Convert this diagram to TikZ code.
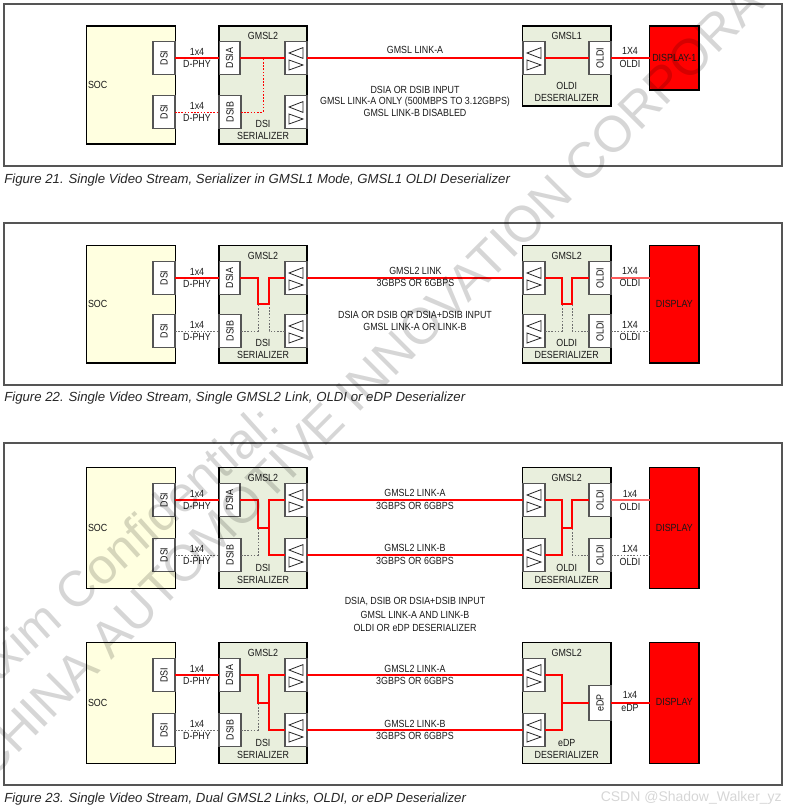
\documentclass[tikz,border=0pt]{standalone}
\usepackage{fontspec}
\usepackage{xcolor}
\usepackage{tikz}
\usetikzlibrary{arrows.meta}
\usetikzlibrary{calc}
\setmainfont[FakeStretch=0.86]{Liberation Sans}
\newfontfamily\capfont{Liberation Sans}
\definecolor{socfill}{HTML}{FFFFE0}
\definecolor{chipfill}{HTML}{E9EFDD}
\definecolor{inkgray}{HTML}{555555}
\definecolor{wmgray}{HTML}{D6D6D6}
\tikzset{
  block/.style={draw=black,line width=0.9pt,inner sep=0pt,outer sep=0pt},
  subbox/.style={draw=inkgray,line width=0.8pt,fill=white,inner sep=0pt,outer sep=0pt,minimum width=16.5pt,minimum height=24.4pt},
  lbl/.style={font=\fontsize{7.75pt}{8pt}\selectfont,text=black!90,inner sep=0pt,outer sep=0pt},
  vlbl/.style={label={[rotate=90,lbl]center:#1}},
  redline/.style={draw=red,line width=1pt},
  redthick/.style={draw=red!65,line width=1.6pt},
  reddots/.style={draw=red,line width=0.7pt,dash pattern=on 1.2pt off 1.2pt},
  graydots/.style={draw=inkgray!85,line width=0.6pt,dash pattern=on 1.2pt off 1.2pt},
  frameline/.style={draw=inkgray,line width=0.9pt},
  figcap/.style={font=\capfont\itshape\fontsize{9.9pt}{10pt}\selectfont,text=black!85,anchor=base west,inner sep=0pt},
  ampline/.style={draw=black!85,line width=0.6pt},
}
\newcommand{\txt}[4]{\node[lbl] (#1) at (#2,#3) {#4};}
\newcommand{\ampbox}[3]{
  \node[subbox] (#1) at (#2,#3) {};
  \draw[ampline] ([shift={(-7,-5)}]#1.center) -- ++(14,-5.4) -- ++(0,10.8) -- cycle;
  \draw[ampline] ([shift={(-7,2)}]#1.center) -- ++(0,10) -- ++(14,-5) -- cycle;
}
% SOC and serializer: tag, top, bottom, y of A, y of B, style of the B line
\newcommand{\srcblock}[6]{
  \node[block,fill=socfill,minimum width=66.4pt,minimum height={0.75pt*(#3-#2)}] (soc-#1) at (131,{(#2+#3)/2}) {};
  \node[lbl,anchor=west] (soctxt-#1) at (88,{(#2+#3)/2}) {SOC};
  \node[subbox,vlbl=DSI] (dsi-a-#1) at (164,#4) {};
  \node[subbox,vlbl=DSI] (dsi-b-#1) at (164,#5) {};
  \node[block,fill=chipfill,minimum width=66pt,minimum height={0.75pt*(#3-#2)}] (ser-#1) at (263,{(#2+#3)/2}) {};
  \node[subbox,minimum width=15.7pt,vlbl=DSIA] (dsia-#1) at (229.5,#4) {};
  \node[subbox,vlbl=DSIB] (dsib-#1) at (230,#5) {};
  \ampbox{amp-a-#1}{296}{#4}
  \ampbox{amp-b-#1}{296}{#5}
  \txt{sertop-#1}{263}{#2+10}{GMSL2}
  \txt{serdsi-#1}{263}{#3-20}{DSI}
  \txt{serbot-#1}{263}{#3-8}{SERIALIZER}
  \txt{lane-a-#1}{197}{#4-6.5}{1x4}
  \txt{phy-a-#1}{197}{#4+5.5}{D-PHY}
  \txt{lane-b-#1}{197}{#5-6.5}{1x4}
  \txt{phy-b-#1}{197}{#5+5.5}{D-PHY}
  \draw[redline] (dsi-a-#1.east) -- (dsia-#1.west);
  \draw[#6] (dsi-b-#1.east) -- (dsib-#1.west);
}
% deserializer body: tag, top, bottom, first line, second line
\newcommand{\dsrblock}[5]{
  \node[block,fill=chipfill,minimum width=66.4pt,minimum height={0.75pt*(#3-#2)}] (dsr-#1) at (566.7,{(#2+#3)/2}) {};
  \txt{dsrtop-#1}{566.7}{#2+10}{#4}
  \txt{dsrkind-#1}{566.7}{#3-20}{#5}
  \txt{dsrbot-#1}{566.7}{#3-8}{DESERIALIZER}
}
\begin{document}
\begin{tikzpicture}[x=0.75pt,y=-0.75pt]
  \useasboundingbox (0,0) rectangle (785,810);
  \clip (0,0) rectangle (785,810);

  % Frames
  \draw[frameline] (4,4) rectangle (782,166);
  \draw[frameline] (4,223) rectangle (782,385);
  \draw[frameline] (4,443) rectangle (782,785);

  % Figure 21
  \srcblock{f21}{26}{144}{58}{112}{reddots}
  \dsrblock{f21}{26}{106}{GMSL1}{OLDI}
  \ampbox{dsr-amp-f21}{534}{58}
  \node[subbox,vlbl=OLDI] (oldi-f21) at (600,58) {};
  \node[block,fill=red,minimum width=37pt,minimum height=48pt] (disp-f21) at (674.3,58) {};
  \node[lbl] (disptxt-f21) at (674.3,58) {DISPLAY-1};
  \coordinate (join-f21) at (263,58);
  \draw[redline] (dsia-f21.east) -- (amp-a-f21.west);
  \draw[reddots] (dsib-f21.east) -| (join-f21);
  \draw[redline] (amp-a-f21.east) -- (dsr-amp-f21.west);
  \draw[redline] (dsr-amp-f21.east) -- (oldi-f21.west);
  \draw[redline] (oldi-f21.east) -- (disp-f21.west);
  \txt{link-f21}{415}{50}{GMSL LINK-A}
  \txt{note-a-f21}{415}{90}{DSIA OR DSIB INPUT}
  \txt{note-b-f21}{415}{102}{GMSL LINK-A ONLY (500MBPS TO 3.12GBPS)}
  \txt{note-c-f21}{415}{113}{GMSL LINK-B DISABLED}
  \txt{out-a-f21}{630}{51}{1X4}
  \txt{out-b-f21}{630}{64}{OLDI}
  \node[figcap] (cap-f21) at (4,183) {Figure 21. Single Video Stream, Serializer in GMSL1 Mode, GMSL1 OLDI Deserializer};

  % Figure 22
  \srcblock{f22}{245.5}{363}{278}{331}{graydots}
  \dsrblock{f22}{245.5}{363}{GMSL2}{OLDI}
  \ampbox{dsr-amp-a-f22}{534}{278}
  \ampbox{dsr-amp-b-f22}{534}{331}
  \node[subbox,vlbl=OLDI] (oldi-a-f22) at (600,278) {};
  \node[subbox,vlbl=OLDI] (oldi-b-f22) at (600,331) {};
  \node[block,fill=red,minimum width=37pt,minimum height={0.75pt*117.5}] (disp-f22) at (674.3,304.2) {};
  \node[lbl] (disptxt-f22) at (674.3,304.2) {DISPLAY};
  \coordinate (sl-f22) at (258,304);
  \coordinate (sr-f22) at (269,304);
  \coordinate (dl-f22) at (562,304);
  \coordinate (dr-f22) at (572,304);
  \draw[graydots] (dsib-f22.east) -| (sl-f22);
  \draw[graydots] (amp-b-f22.west) -| (sr-f22);
  \draw[graydots] (dsr-amp-b-f22.east) -| (dl-f22);
  \draw[graydots] (oldi-b-f22.west) -| (dr-f22);
  \draw[redline] (dsia-f22.east) -| (sl-f22) -- (sr-f22) |- (amp-a-f22.west);
  \draw[redline] (dsr-amp-a-f22.east) -| (dl-f22) -- (dr-f22) |- (oldi-a-f22.west);
  \draw[redline] (amp-a-f22.east) -- (dsr-amp-a-f22.west);
  \draw[redthick] (oldi-a-f22.east) -- (oldi-a-f22.east -| disp-f22.west);
  \draw[graydots] (oldi-b-f22.east) -- (oldi-b-f22.east -| disp-f22.west);
  \txt{link-a-f22}{415.5}{271}{GMSL2 LINK}
  \txt{link-b-f22}{415.5}{283}{3GBPS OR 6GBPS}
  \txt{note-a-f22}{415}{315}{DSIA OR DSIB OR DSIA+DSIB INPUT}
  \txt{note-b-f22}{415}{327}{GMSL LINK-A OR LINK-B}
  \txt{out-a-f22}{630}{271}{1X4}
  \txt{out-b-f22}{630}{283}{OLDI}
  \txt{out-c-f22}{630}{324.5}{1X4}
  \txt{out-d-f22}{630}{337}{OLDI}
  \node[figcap] (cap-f22) at (4,401.5) {Figure 22. Single Video Stream, Single GMSL2 Link, OLDI or eDP Deserializer};

  % Figure 23, upper row
  \srcblock{f23u}{467.7}{588.3}{500}{555}{graydots}
  \dsrblock{f23u}{467.7}{588.3}{GMSL2}{OLDI}
  \ampbox{dsr-amp-a-f23u}{534}{500}
  \ampbox{dsr-amp-b-f23u}{534}{555}
  \node[subbox,vlbl=OLDI] (oldi-a-f23u) at (600,500) {};
  \node[subbox,vlbl=OLDI] (oldi-b-f23u) at (600,555) {};
  \node[block,fill=red,minimum width=37pt,minimum height={0.75pt*120.6}] (disp-f23u) at (674.3,528) {};
  \node[lbl] (disptxt-f23u) at (674.3,527.5) {DISPLAY};
  \coordinate (sl-f23u) at (258,528);
  \coordinate (sr-f23u) at (269,528);
  \coordinate (dl-f23u) at (562,528);
  \coordinate (dr-f23u) at (572,528);
  \draw[graydots] (dsib-f23u.east) -| (sl-f23u);
  \draw[graydots] (oldi-b-f23u.west) -| (dr-f23u);
  \draw[redline] (dsia-f23u.east) -| (sl-f23u) -- (sr-f23u);
  \draw[redline] (amp-a-f23u.west) -| (sr-f23u) |- (amp-b-f23u.west);
  \draw[redline] (dsr-amp-a-f23u.east) -| (dl-f23u) |- (dsr-amp-b-f23u.east);
  \draw[redline] (dl-f23u) -- (dr-f23u) |- (oldi-a-f23u.west);
  \draw[redline] (amp-a-f23u.east) -- (dsr-amp-a-f23u.west);
  \draw[redline] (amp-b-f23u.east) -- (dsr-amp-b-f23u.west);
  \draw[redthick] (oldi-a-f23u.east) -- (oldi-a-f23u.east -| disp-f23u.west);
  \draw[graydots] (oldi-b-f23u.east) -- (oldi-b-f23u.east -| disp-f23u.west);
  \txt{link-a-f23u}{415}{493}{GMSL2 LINK-A}
  \txt{link-b-f23u}{415}{506}{3GBPS OR 6GBPS}
  \txt{link-c-f23u}{415}{548}{GMSL2 LINK-B}
  \txt{link-d-f23u}{415}{561}{3GBPS OR 6GBPS}
  \txt{out-a-f23u}{630}{494}{1x4}
  \txt{out-b-f23u}{630}{507}{OLDI}
  \txt{out-c-f23u}{630}{549}{1X4}
  \txt{out-d-f23u}{630}{561.5}{OLDI}
  \txt{note-a-f23}{415}{602}{DSIA, DSIB OR DSIA+DSIB INPUT}
  \txt{note-b-f23}{415}{615}{GMSL LINK-A AND LINK-B}
  \txt{note-c-f23}{415}{628}{OLDI OR eDP DESERIALIZER}

  % Figure 23, lower row
  \srcblock{f23d}{642.7}{763.3}{675}{730}{graydots}
  \dsrblock{f23d}{642.7}{763.3}{GMSL2}{eDP}
  \ampbox{dsr-amp-a-f23d}{534}{675}
  \ampbox{dsr-amp-b-f23d}{534}{730}
  \node[subbox,vlbl=eDP,minimum height=25.8pt] (edp-f23d) at (600,703) {};
  \node[block,fill=red,minimum width=37pt,minimum height={0.75pt*120.6}] (disp-f23d) at (674.3,703) {};
  \node[lbl] (disptxt-f23d) at (674.3,702) {DISPLAY};
  \coordinate (sl-f23d) at (258,703);
  \coordinate (sr-f23d) at (269,703);
  \coordinate (dl-f23d) at (562,703);
  \draw[graydots] (dsib-f23d.east) -| (sl-f23d);
  \draw[redline] (dsia-f23d.east) -| (sl-f23d) -- (sr-f23d);
  \draw[redline] (amp-a-f23d.west) -| (sr-f23d) |- (amp-b-f23d.west);
  \draw[redline] (dsr-amp-a-f23d.east) -| (dl-f23d) |- (dsr-amp-b-f23d.east);
  \draw[redline] (dl-f23d) -- (edp-f23d.west);
  \draw[redline] (amp-a-f23d.east) -- (dsr-amp-a-f23d.west);
  \draw[redline] (amp-b-f23d.east) -- (dsr-amp-b-f23d.west);
  \draw[redline] (edp-f23d.east) -- (edp-f23d.east -| disp-f23d.west);
  \txt{link-a-f23d}{415}{669}{GMSL2 LINK-A}
  \txt{link-b-f23d}{415}{681}{3GBPS OR 6GBPS}
  \txt{link-c-f23d}{415}{724}{GMSL2 LINK-B}
  \txt{link-d-f23d}{415}{736}{3GBPS OR 6GBPS}
  \txt{out-a-f23d}{630}{695}{1x4}
  \txt{out-b-f23d}{630}{708}{eDP}
  \node[figcap] (cap-f23) at (4,802.5) {Figure 23. Single Video Stream, Dual GMSL2 Links, OLDI, or eDP Deserializer};

  % Watermarks
  \begin{scope}[blend mode=multiply]
    \node[text=wmgray,font=\capfont\fontsize{38pt}{38pt}\selectfont,rotate=45,anchor=base west,inner sep=0pt] (mark-a) at (-10,782) {CHINA AUTOMOTIVE INNOVATION CORPORATION};
    \node[text=wmgray,font=\capfont\fontsize{37.5pt}{38pt}\selectfont,rotate=42,anchor=base west,inner sep=0pt] (mark-b) at (-45,722) {Maxim Confidential:};
  \end{scope}
  \node[text=wmgray,font=\capfont\fontsize{10.5pt}{11pt}\selectfont,anchor=base east,inner sep=0pt] (mark-c) at (782,801) {CSDN @Shadow\_Walker\_yz};
\end{tikzpicture}
\end{document}
